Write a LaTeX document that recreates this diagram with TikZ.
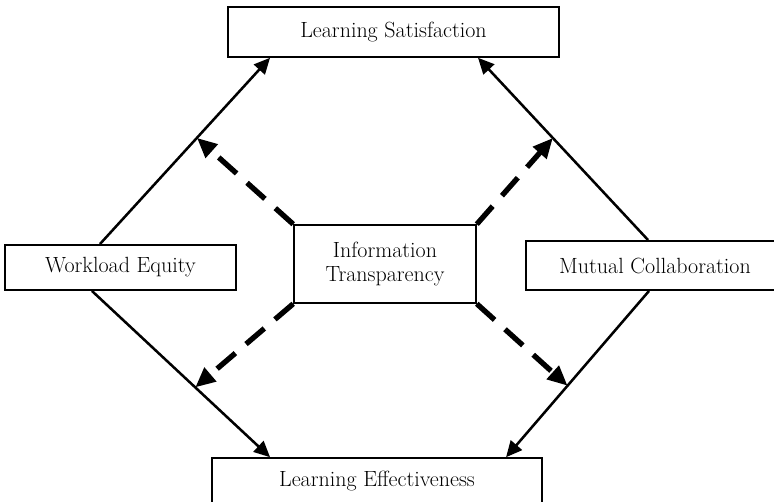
\documentclass[tikz,border=0pt]{standalone}
\usepackage{tikz}
\usetikzlibrary{calc,positioning}
\usetikzlibrary{arrows.meta}
\tikzset{>={Triangle[length=12pt,width=11pt]}}

\begin{document}
\begin{tikzpicture}[x=0.75pt,y=-0.75pt]
      %%%%%%%%%%%%%%%%%%%%%%%%%%%%%%%%%%%%%%%%%%%%%%%%%%
      %% outcomes, drivers and the mediating node
      %%%%%%%%%%%%%%%%%%%%%%%%%%%%%%%%%%%%%%%%%%%%%%%%%%
      \tikzstyle{bnode} = [draw, line width=1.2pt, rectangle, inner sep=2pt, align=center, font=\fontsize{16.5}{18}\selectfont]
      \tikzstyle{sedge} = [->, line width=1.9pt]
      \tikzstyle{dedge} = [-{Triangle[length=15pt,width=13pt]}, line width=4pt, dash pattern=on 18pt off 10.5pt]
      \useasboundingbox (0,0) rectangle (774,502);
      \node[bnode, minimum width=248pt, minimum height=37.5pt] (ls) at (393.5,32) {Learning Satisfaction};
      \node[bnode, minimum width=173pt, minimum height=34pt] (we) at (120.5,267.5) {Workload Equity};
      \node[bnode, minimum width=136.5pt, minimum height=58.5pt] (it) at (385,264) {Information\\ Transparency};
      \node[bnode, minimum width=193.5pt, minimum height=37pt] (mc) at (655,265.5) {Mutual Collaboration};
      \node[bnode, minimum width=247.5pt, minimum height=34.5pt] (le) at (377,481) {Learning Effectiveness};
      % end points of the direct paths
      \coordinate (we-n) at ([xshift=-15.4pt]we.north);
      \coordinate (we-s) at ([xshift=-21.4pt]we.south);
      \coordinate (mc-n) at ([xshift=-5.2pt]mc.north);
      \coordinate (mc-s) at ([xshift=-4.5pt]mc.south);
      \coordinate (ls-l) at ([xshift=-92.6pt]ls.south);
      \coordinate (ls-r) at ([xshift=63.4pt]ls.south);
      \coordinate (le-l) at ([xshift=-80.2pt]le.north);
      \coordinate (le-r) at ([xshift=96.8pt]le.north);
      \draw[sedge] (we-n) -- (ls-l);
      \draw[sedge] (mc-n) -- (ls-r);
      \draw[sedge] (we-s) -- (le-l);
      \draw[sedge] (mc-s) -- (le-r);
      % mediated paths end on the direct ones
      \draw[dedge] (it.north west) -- ($(we-n)!0.57!(ls-l)$);
      \draw[dedge] (it.north east) -- ($(mc-n)!0.56!(ls-r)$);
      \draw[dedge] (it.south west) -- ($(we-s)!0.58!(le-l)$);
      \draw[dedge] (it.south east) -- ($(mc-s)!0.57!(le-r)$);
    \end{tikzpicture}
\end{document}
